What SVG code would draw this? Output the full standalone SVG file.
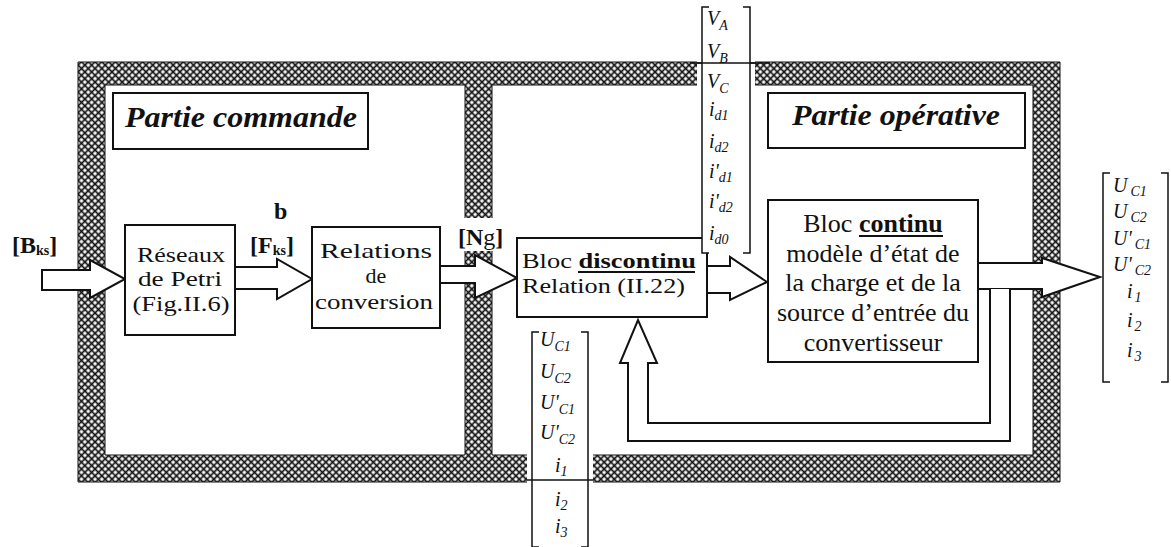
<svg xmlns="http://www.w3.org/2000/svg" width="1171" height="547" viewBox="0 0 1171 547">
<style>
.box{fill:#fff;stroke:#111;stroke-width:2}
.arr{fill:#fff;stroke:#111;stroke-width:2;stroke-linejoin:miter}
.t{font-family:"Liberation Serif",serif;font-size:26px;fill:#111}
.s{font-family:"Liberation Serif",serif;font-size:22px;fill:#111}
.tc{text-anchor:middle}
.title{font-family:"Liberation Serif",serif;font-size:30px;font-weight:bold;font-style:italic;fill:#111}
.lbl{font-family:"Liberation Serif",serif;font-size:24px;font-weight:bold;fill:#111}
.v{font-family:"Liberation Serif",serif;font-size:20px;font-style:italic;fill:#111}
.sub{font-size:14px}
.br{fill:none;stroke:#111;stroke-width:1.5}
.ul{stroke:#111;stroke-width:2}
</style>
<defs>
<pattern id="hatch" width="4.8" height="4.8" patternUnits="userSpaceOnUse" patternTransform="rotate(45)">
<rect width="4.8" height="4.8" fill="#111"/>
<rect x="1.3" y="1.3" width="3.1" height="3.1" fill="#fff"/>
</pattern>
</defs>
<rect width="1171" height="547" fill="#fff"/>
<g id="frame">
<path d="M78,62 H1060 V482 H78 Z M105,85 V455 H465 V85 Z M492,85 V455 H1033 V85 Z" fill="url(#hatch)" fill-rule="evenodd" stroke="#111" stroke-width="1"/>
<rect x="697" y="61" width="58" height="25" fill="#fff"/>
<rect x="527" y="454" width="66" height="30" fill="#fff"/>
<rect x="462" y="218" width="34" height="33" fill="#fff"/>
<line x1="697" y1="63" x2="755" y2="63" stroke="#111" stroke-width="1.5"/>
<line x1="527" y1="480" x2="593" y2="480" stroke="#111" stroke-width="1.5"/>
</g>
<g id="partie-commande">
<rect class="box" x="113" y="93" width="255" height="56"/>
<text class="title" x="125" y="127" textLength="232" lengthAdjust="spacingAndGlyphs">Partie commande</text>
</g>
<g id="partie-operative">
<rect class="box" x="768" y="93" width="257" height="55"/>
<text class="title" x="792" y="125" textLength="208" lengthAdjust="spacingAndGlyphs">Partie opérative</text>
</g>
<g id="connectors">
<polygon class="arr" points="42,270 90,270 90,260 125,279 90,298 90,290 42,290"/>
<polygon class="arr" points="235,267 277,267 277,259 312,279 277,299 277,289 235,289"/>
<polygon class="arr" points="440,266 475,266 475,255 517,278 475,298 475,283 440,283"/>
<polygon class="arr" points="707,266 730,266 730,257 767,282 730,300 730,293 707,293"/>
<polygon class="arr" points="978,263 1042,263 1042,258 1100,277 1042,297 1042,289 978,289"/>
<path class="arr" d="M990,289 V423 H648 V363 H657 L638,320 L620,363 H628 V441 H1010 V289"/>
</g>
<g id="label-bks">
<text class="lbl" x="12" y="253">[B<tspan class="sub" font-size="13" dy="2">ks</tspan><tspan dy="-2">]</tspan></text>
</g>
<g id="reseaux">
<rect class="box" x="125" y="225" width="110" height="110"/>
<text class="s tc" x="181" y="262" textLength="88" lengthAdjust="spacingAndGlyphs">Réseaux</text>
<text class="s tc" x="180" y="286" textLength="84" lengthAdjust="spacingAndGlyphs">de Petri</text>
<text class="s tc" x="181" y="311" textLength="97" lengthAdjust="spacingAndGlyphs">(Fig.II.6)</text>
</g>
<g id="label-fks">
<text class="lbl" x="274" y="219" font-size="14">b</text>
<text class="lbl" x="250" y="253">[F<tspan class="sub" font-size="13" dy="2">ks</tspan><tspan dy="-2">]</tspan></text>
</g>
<g id="relations">
<rect class="box" x="312" y="227" width="128" height="101"/>
<text class="s tc" x="376" y="258" textLength="112" lengthAdjust="spacingAndGlyphs">Relations</text>
<text class="s tc" x="376" y="283">de</text>
<text class="s tc" x="374" y="309" textLength="118" lengthAdjust="spacingAndGlyphs">conversion</text>
</g>
<g id="label-ng">
<text class="lbl" x="458" y="245">[N<tspan font-weight="normal">g</tspan>]</text>
</g>
<g id="bloc-discontinu">
<rect class="box" x="517" y="238" width="190" height="79"/>
<text class="s" x="522" y="268" textLength="174" lengthAdjust="spacingAndGlyphs">Bloc <tspan font-weight="bold">discontinu</tspan></text>
<line class="ul" x1="578" y1="272" x2="695" y2="272"/>
<text class="s" x="522" y="293" textLength="163" lengthAdjust="spacingAndGlyphs">Relation (II.22)</text>
</g>
<g id="bloc-continu">
<rect class="box" x="768" y="200" width="210" height="162"/>
<text class="t tc" x="873" y="232">Bloc <tspan font-weight="bold">continu</tspan></text>
<line class="ul" x1="859" y1="236" x2="943" y2="236"/>
<text class="t tc" x="873" y="262">modèle d’état de</text>
<text class="t tc" x="873" y="291">la charge et de la</text>
<text class="t tc" x="873" y="321">source d’entrée du</text>
<text class="t tc" x="873" y="351">convertisseur</text>
</g>
<g id="vector-v">
<rect x="702" y="7" width="48" height="246" fill="#fff"/>
<line x1="690" y1="63" x2="770" y2="63" stroke="#111" stroke-width="1.5"/>
<path class="br" d="M709,7 H702 V253 H709"/>
<path class="br" d="M743,7 H750 V253 H743"/>
<text class="v" x="707" y="25">V<tspan class="sub" dy="5">A</tspan></text>
<text class="v" x="707" y="58">V<tspan class="sub" dy="5">B</tspan></text>
<text class="v" x="707" y="88">V<tspan class="sub" dy="5">C</tspan></text>
<text class="v" x="709" y="116">i<tspan class="sub" dy="4">d1</tspan></text>
<text class="v" x="709" y="148">i<tspan class="sub" dy="4">d2</tspan></text>
<text class="v" x="709" y="178">i'<tspan class="sub" dy="4">d1</tspan></text>
<text class="v" x="709" y="208">i'<tspan class="sub" dy="4">d2</tspan></text>
<text class="v" x="709" y="240">i<tspan class="sub" dy="4">d0</tspan></text>
</g>
<g id="vector-u-bottom">
<path class="br" d="M539,332 H532 V547 H539"/>
<path class="br" d="M581,332 H588 V547 H581"/>
<text class="v" x="540" y="346">U<tspan class="sub" dy="5">C1</tspan></text>
<text class="v" x="540" y="378">U<tspan class="sub" dy="5">C2</tspan></text>
<text class="v" x="540" y="409">U'<tspan class="sub" dy="5">C1</tspan></text>
<text class="v" x="540" y="439">U'<tspan class="sub" dy="5">C2</tspan></text>
<text class="v" x="555" y="472">i<tspan class="sub" dy="4">1</tspan></text>
<text class="v" x="555" y="506">i<tspan class="sub" dy="4">2</tspan></text>
<text class="v" x="555" y="533">i<tspan class="sub" dy="4">3</tspan></text>
</g>
<g id="vector-u-right">
<path class="br" d="M1110,173 H1103 V382 H1110"/>
<path class="br" d="M1161,173 H1168 V382 H1161"/>
<text class="v" x="1113" y="192">U<tspan class="sub" dx="3" dy="4">C1</tspan></text>
<text class="v" x="1113" y="218">U<tspan class="sub" dx="3" dy="4">C2</tspan></text>
<text class="v" x="1113" y="245">U'<tspan class="sub" dx="3" dy="4">C1</tspan></text>
<text class="v" x="1113" y="271">U'<tspan class="sub" dx="3" dy="4">C2</tspan></text>
<text class="v" x="1127" y="298">i<tspan class="sub" dx="2" dy="4">1</tspan></text>
<text class="v" x="1127" y="327">i<tspan class="sub" dx="2" dy="4">2</tspan></text>
<text class="v" x="1127" y="357">i<tspan class="sub" dx="2" dy="4">3</tspan></text>
</g>
</svg>
